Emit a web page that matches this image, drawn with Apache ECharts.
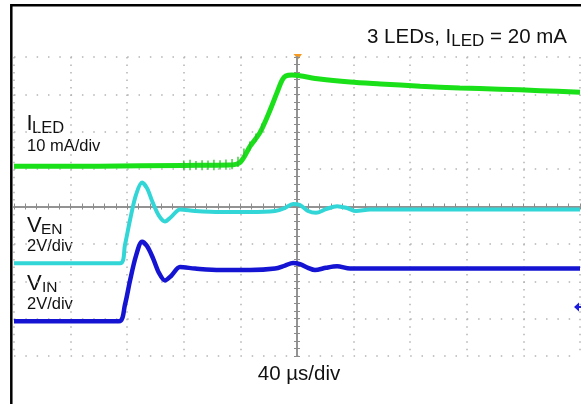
<!DOCTYPE html>
<html><head><meta charset="utf-8">
<script src="https://cdn.jsdelivr.net/npm/echarts@6/dist/echarts.min.js"></script>
<style>html,body{margin:0;padding:0;background:#fff}#c{width:581px;height:404px}</style>
</head><body><div id="c"></div>
<script>
// time axis: µs (40 µs/div), vertical: screen divisions (centre = 0)
const tickTimes = [-200,-160,-120,-80,-40,0,40,80,120,160,200];
const iledTime = [-200,-140,-80,-48,-40,-33,-26,-19,-14,-10.5,-8,-3.5,2,16,37.5,59,87,115,143,172,200];
const iledDiv  = [1.08,1.08,1.10,1.11,1.19,1.62,1.99,2.58,3.06,3.38,3.49,3.52,3.50,3.41,3.33,3.28,3.22,3.17,3.14,3.10,3.06];
// switching ripple spikes on I_LED before the rise
const spikeTime = [-80,-75.6,-71.4,-67.1,-62.9,-58.7,-54.4,-50.2,-45.9,-41.7,-37.5,-33.3,-29.0,-24.8];
const spikeHi   = [1.23,1.25,1.22,1.24,1.23,1.25,1.24,1.26,1.27,1.33,1.55,1.74,1.95,2.22];
const spikeLo   = [0.98,0.97,0.99,0.97,0.98,0.97,0.99,0.98,1.00,1.06,1.30,1.50,1.74,2.00];
const venTime = [-200,-125,-121.6,-118,-113.8,-109.5,-106,-101.8,-97.5,-93.3,-89,-82.7,-72.1,-54.4,-33.2,-15.5,-8.5,-2.8,2.1,7.8,13.4,20.5,28.3,35.3,41.7,51.6,200];
const venDiv  = [-1.52,-1.52,-1.03,-0.36,0.31,0.64,0.49,0.09,-0.25,-0.40,-0.28,-0.08,-0.12,-0.15,-0.15,-0.12,-0.04,0.07,0.04,-0.12,-0.17,-0.07,0.01,-0.04,-0.12,-0.08,-0.08];
const vinTime = [-200,-125.8,-121.6,-118,-113.8,-109.5,-106,-101.8,-97.5,-93.3,-89,-82.7,-72.1,-54.4,-33.2,-15.5,-8.5,-2.8,2.1,7.8,12.7,20.5,28.3,37.5,200];
const vinDiv  = [-3.07,-3.07,-2.63,-1.98,-1.32,-0.94,-1.06,-1.38,-1.78,-1.98,-1.86,-1.62,-1.66,-1.70,-1.70,-1.66,-1.58,-1.51,-1.54,-1.64,-1.70,-1.64,-1.60,-1.66,-1.66];

const pairs = (t, v) => t.map((x, i) => [x, v[i]]);
const spikes = spikeTime.flatMap((t, i) => [[t, spikeHi[i]], [t, spikeLo[i]], [t, '-']]);
const FONT = '"Liberation Sans", Arial, sans-serif';
const GRID_C = '#b4b4b4', AX_C = '#8c8c8c';

const chart = echarts.init(document.getElementById('c'), null, {renderer: 'canvas'});
const centreAxisX = pos => ({
  type: 'value', min: -200, max: 200, interval: 8, position: pos,
  axisLine: {show: true, onZero: true, onZeroAxisIndex: 0, lineStyle: {color: AX_C, width: 1.5}},
  axisTick: {show: true, inside: true, length: 3, lineStyle: {color: AX_C, width: 1}},
  axisLabel: {show: false}, splitLine: {show: false}
});
const centreAxisY = pos => ({
  type: 'value', min: -4, max: 4, interval: 0.2, position: pos,
  axisLine: {show: true, onZero: true, onZeroAxisIndex: 0, lineStyle: {color: AX_C, width: 1.5}},
  axisTick: {show: true, inside: true, length: 3, lineStyle: {color: AX_C, width: 1}},
  axisLabel: {show: false}, splitLine: {show: false}
});
const lineSeries = (name, data, color, w, z) => ({
  name, type: 'line', xAxisIndex: 0, yAxisIndex: 0, data, showSymbol: false, symbol: 'none',
  smooth: 0.3, z, lineStyle: {color, width: w}, animation: false
});
const txt = (x, y, text, size, extra) => ({type: 'text', x, y, silent: true,
  style: Object.assign({text, fontSize: size, fontFamily: FONT, fill: '#111', verticalAlign: 'middle'}, extra || {})});

chart.setOption({
  animation: false,
  backgroundColor: '#fff',
  grid: {left: 14, top: 57, width: 566, height: 299, containLabel: false},
  xAxis: [
    {type: 'value', min: tickTimes[0], max: tickTimes[tickTimes.length - 1], interval: 40,
     axisLine: {show: false}, axisTick: {show: false}, axisLabel: {show: false},
     splitLine: {show: true, showMinLine: true, showMaxLine: true, lineStyle: {color: GRID_C, width: 1.5, type: [1.5, 5.98]}}},
    centreAxisX('bottom'), centreAxisX('top')
  ],
  yAxis: [
    {type: 'value', min: -4, max: 4, interval: 1,
     axisLine: {show: false}, axisTick: {show: false}, axisLabel: {show: false},
     splitLine: {show: true, showMinLine: true, showMaxLine: true, lineStyle: {color: GRID_C, width: 1.5, type: [1.5, 9.82]}}},
    centreAxisY('left'), centreAxisY('right')
  ],
  series: [
    lineSeries('VIN', pairs(vinTime, vinDiv), '#1414d2', 4.5, 3),
    lineSeries('VEN', pairs(venTime, venDiv), '#33d6d6', 4, 4),
    lineSeries('ILED', pairs(iledTime, iledDiv), '#19e019', 5, 5),
    Object.assign(lineSeries('ILED ripple', spikes, '#2bc02b', 1.3, 6), {smooth: false, connectNulls: false})
  ],
  graphic: [
    {type: 'rect', silent: true, shape: {x: 11.3, y: 5.3, width: 700, height: 500}, style: {fill: 'none', stroke: '#000', lineWidth: 2.5}},
    {type: 'polygon', silent: true, shape: {points: [[293.5, 54], [302, 54], [298, 59.5]]}, style: {fill: '#f59a1f'}},
    {type: 'polygon', silent: true, shape: {points: [[574, 307], [579, 302.5], [579, 311.5]]}, style: {fill: '#1a1ae0'}},
    {type: 'rect', silent: true, shape: {x: 578, y: 306, width: 4, height: 2}, style: {fill: '#1a1ae0'}},
    {type: 'text', x: 567, y: 37, silent: true, style: {
      text: '{a|3 LEDs, I}{b|LED}{a| = 20 mA}', align: 'right', verticalAlign: 'middle',
      rich: {a: {fontSize: 20.5, fontFamily: FONT, fill: '#111'}, b: {fontSize: 17, fontFamily: FONT, fill: '#111', padding: [9, 0, 0, 0]}}}},
    txt(26.5, 123.5, 'I', 22),
    txt(32, 128.5, 'LED', 16.5),
    txt(27, 146, '10 mA/div', 16.5),
    txt(27, 225.5, 'V', 22),
    txt(41, 229.5, 'EN', 15.5),
    txt(27, 246.5, '2V/div', 16.5),
    txt(27, 284.3, 'V', 22),
    txt(42, 288, 'IN', 15.5),
    txt(27, 304, '2V/div', 16.5),
    txt(299, 374.5, '40 µs/div', 20.5, {align: 'center'})
  ]
});
</script></body></html>
